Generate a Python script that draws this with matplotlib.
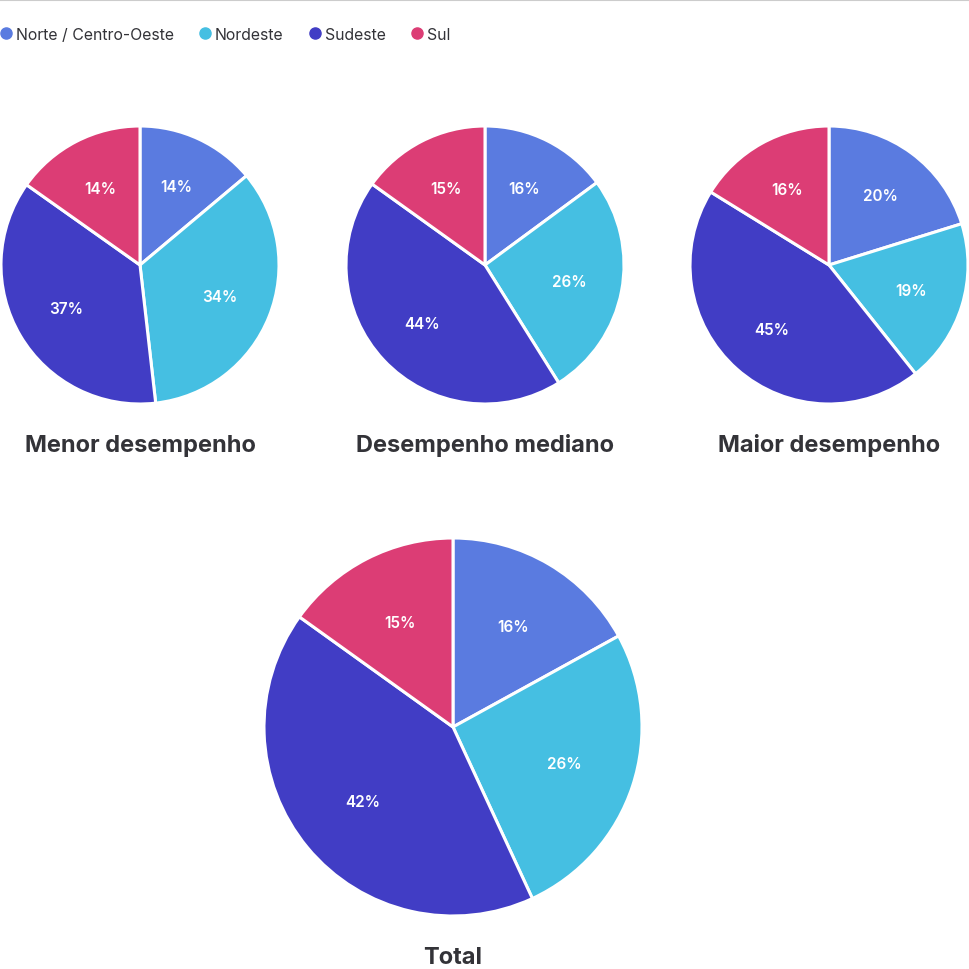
import math
import matplotlib
matplotlib.use("Agg")
import matplotlib.pyplot as plt
from matplotlib.lines import Line2D

plt.rcParams['font.family'] = ['Inter', 'DejaVu Sans']

# Data
regions = ["Norte / Centro-Oeste", "Nordeste", "Sudeste", "Sul"]
colors = ["#5a7be0", "#45bfe2", "#413dc5", "#dc3d75"]
titles = ["Menor desempenho", "Desempenho mediano", "Maior desempenho", "Total"]

# wedge shares
menor_share = [13.9, 34.3, 36.6, 15.2]
mediano_share = [14.9, 26.2, 43.8, 15.1]
maior_share = [20.2, 19.1, 44.5, 16.2]
total_share = [17.0, 26.1, 41.8, 15.1]

# printed percentages
menor_pct = [14, 34, 37, 14]
mediano_pct = [16, 26, 44, 15]
maior_pct = [20, 19, 45, 16]
total_pct = [16, 26, 42, 15]

shares = [menor_share, mediano_share, maior_share, total_share]
pcts = [menor_pct, mediano_pct, maior_pct, total_pct]

W, H = 969, 970
fig = plt.figure(figsize=(W / 100, H / 100), dpi=100)

# pie centres / radii in pixels
layout = [(140, 266, 139), (485, 266, 139), (829, 266, 139), (453, 728, 189)]
title_y = [446, 446, 446, 958]


def draw_pie(values, labels, title, cx, cy, r, ty):
    ax = fig.add_axes([(cx - r) / W, (H - cy - r) / H, 2 * r / W, 2 * r / H])
    ax.pie(values, colors=colors, startangle=90, counterclock=False, radius=1,
           wedgeprops=dict(edgecolor="white", linewidth=2.2))
    tot = sum(values)
    ang = 90.0
    for v, lab in zip(values, labels):
        span = 360.0 * v / tot
        mid = math.radians(ang - span / 2)
        ax.text(0.62 * math.cos(mid), 0.62 * math.sin(mid), f"{lab}%", ha="center",
                va="center", color="white", fontsize=11, fontweight="semibold")
        ang -= span
    ax.set_xlim(-1.0, 1.0)
    ax.set_ylim(-1.0, 1.0)
    ax.set_aspect("equal")
    ax.axis("off")
    fig.text(cx / W, 1 - ty / H, title, ha="center", va="center", fontsize=17,
             fontweight="bold", color="#333338")


for vals, labs, t, (cx, cy, r), ty in zip(shares, pcts, titles, layout, title_y):
    draw_pie(vals, labs, t, cx, cy, r, ty)

# top rule
fig.add_artist(Line2D([0, 1], [1 - 1 / H, 1 - 1 / H], color="#cccccc", linewidth=1.5))

# legend
handles = [Line2D([], [], marker="o", linestyle="", markersize=8, markerfacecolor=c,
                  markeredgecolor=c) for c in colors]
fig.legend(handles, regions, loc="center left", bbox_to_anchor=(0.0, 1 - 35 / H),
           ncol=4, frameon=False, fontsize=11.4, handlelength=0.7, handletextpad=0.3,
           columnspacing=1.6, borderpad=0, borderaxespad=0, labelcolor="#333338")

fig.savefig("out.png", dpi=100)
